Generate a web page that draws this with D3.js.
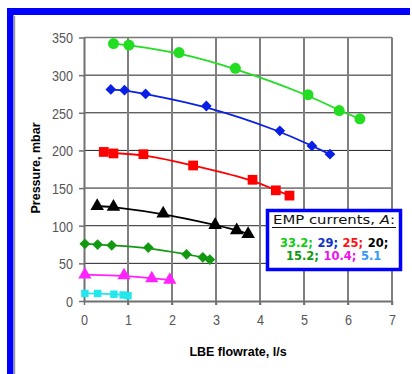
<!DOCTYPE html>
<html>
<head>
<meta charset="utf-8">
<script src="https://cdn.jsdelivr.net/npm/d3@7"></script>
<style>
  body { margin: 0; background: #fff; }
  svg { display: block; }
</style>
</head>
<body>
<div id="chart"></div>
<script>
// Chart size
var svgWidth = 412;
var svgHeight = 374;

// Tick labels
var xTicks = [0, 1, 2, 3, 4, 5, 6, 7];
var yTicks = [0, 50, 100, 150, 200, 250, 300, 350];

// EMP currents, A (legend labels)
var currents = ["33.2", "29", "25", "20", "15.2", "10.4", "5.1"];

// Flowrate (l/s) and pressure (mbar) for each current
var flow332 = [0.67, 1.02, 2.16, 3.44, 5.09, 5.80, 6.27];
var pres332 = [342, 340, 330, 309, 274, 253, 242];

var flow29 = [0.61, 0.92, 1.40, 2.78, 4.45, 5.18, 5.59];
var pres29 = [281, 280, 275, 259, 226, 206, 195];

var flow25 = [0.45, 0.67, 1.35, 2.48, 3.83, 4.36, 4.67];
var pres25 = [198, 196, 195, 180, 161, 147, 140];

var flow20 = [0.30, 0.67, 1.80, 2.98, 3.47, 3.73];
var pres20 = [126, 125, 116, 101, 94, 89];

var flow152 = [0.02, 0.31, 0.63, 1.46, 2.33, 2.70, 2.86];
var pres152 = [76, 75, 74, 71, 62, 58, 55];

var flow104 = [0.02, 0.91, 1.54, 1.95];
var pres104 = [35, 34, 30, 28];

var flow51 = [0.02, 0.31, 0.68, 0.89, 1.00];
var pres51 = [10, 10, 9, 8, 7];

var svg = d3.select("#chart")
  .append("svg")
  .attr("width", svgWidth)
  .attr("height", svgHeight);

// Frame: thick blue bars and thin gray inner line
svg.append("rect").attr("x", 7).attr("y", 8).attr("width", 403).attr("height", 7).attr("fill", "#0000ff");
svg.append("rect").attr("x", 7).attr("y", 8).attr("width", 6.5).attr("height", 366).attr("fill", "#0000ff");
svg.append("line").attr("x1", 14.5).attr("x2", 14.5).attr("y1", 16).attr("y2", 374)
  .attr("stroke", "#9a9a9a").attr("stroke-width", 1.5);

// Scales
var xScale = d3.scaleLinear().domain([0, 7]).range([84, 392]);
var yScale = d3.scaleLinear().domain([0, 350]).range([301, 37.5]);

// Horizontal gridlines
svg.append("g").selectAll("line")
  .data(yTicks.slice(1, -1))
  .enter()
  .append("line")
  .attr("x1", xScale(0)).attr("x2", xScale(7))
  .attr("y1", d => yScale(d)).attr("y2", d => yScale(d))
  .attr("stroke", "#222").attr("stroke-width", 1);

// Top frame
svg.append("line")
  .attr("x1", xScale(0)).attr("x2", xScale(7))
  .attr("y1", yScale(350)).attr("y2", yScale(350))
  .attr("stroke", "#777").attr("stroke-width", 1.5);

// Vertical gridlines
svg.append("g").selectAll("line")
  .data(xTicks.slice(1))
  .enter()
  .append("line")
  .attr("x1", d => xScale(d)).attr("x2", d => xScale(d))
  .attr("y1", yScale(350)).attr("y2", yScale(0) + 4)
  .attr("stroke", "#808080").attr("stroke-width", 2);

// Axes
var bottomAxis = d3.axisBottom(xScale).tickValues(xTicks).tickFormat(d3.format("d"))
  .tickSize(4).tickSizeOuter(0);
var leftAxis = d3.axisLeft(yScale).tickValues(yTicks).tickFormat(d3.format("d"))
  .tickSize(5).tickSizeOuter(0);

var xAxisG = svg.append("g")
  .attr("transform", "translate(0," + yScale(0) + ")")
  .call(bottomAxis);
var yAxisG = svg.append("g")
  .attr("transform", "translate(" + xScale(0) + ",0)")
  .call(leftAxis);

[xAxisG, yAxisG].forEach(function(g) {
  g.select(".domain").attr("stroke", "#707070").attr("stroke-width", 2);
  g.selectAll(".tick line").attr("stroke", "#707070").attr("stroke-width", 1.5);
  g.selectAll(".tick text")
    .attr("font-family", "'Liberation Sans', Arial, sans-serif")
    .attr("font-size", 15)
    .attr("fill", "#555")
    .attr("textLength", d => String(d).length * 7)
    .attr("lengthAdjust", "spacingAndGlyphs");
});
xAxisG.selectAll(".tick text").attr("y", 13);
yAxisG.selectAll(".tick text").attr("x", -11).attr("dy", "0.36em");

// Axis titles
svg.append("text")
  .attr("x", 238).attr("y", 356)
  .attr("text-anchor", "middle")
  .attr("font-family", "'Liberation Sans', Arial, sans-serif")
  .attr("font-weight", "bold")
  .attr("font-size", 12.5)
  .text("LBE flowrate, l/s");

svg.append("text")
  .attr("transform", "translate(40,168) rotate(-90)")
  .attr("text-anchor", "middle")
  .attr("font-family", "'Liberation Sans', Arial, sans-serif")
  .attr("font-weight", "bold")
  .attr("font-size", 12.5)
  .text("Pressure, mbar");

// Series definitions (rot = 45 turns a square into an Excel-like diamond)
var series = [
  { flow: flow332, pres: pres332, color: "#22dd22", symbol: d3.symbolCircle, size: 95, rot: 0 },
  { flow: flow29, pres: pres29, color: "#0a1fe6", symbol: d3.symbolSquare, size: 58, rot: 45 },
  { flow: flow25, pres: pres25, color: "#ff0000", symbol: d3.symbolSquare, size: 95, rot: 0 },
  { flow: flow20, pres: pres20, color: "#000000", symbol: d3.symbolTriangle, size: 80, rot: 0 },
  { flow: flow152, pres: pres152, color: "#119911", symbol: d3.symbolSquare, size: 58, rot: 45 },
  { flow: flow104, pres: pres104, color: "#ff22ff", symbol: d3.symbolTriangle, size: 75, rot: 0 },
  { flow: flow51, pres: pres51, color: "#22e8ee", symbol: d3.symbolSquare, size: 55, rot: 0 }
];

var line = d3.line()
  .x(d => xScale(d[0]))
  .y(d => yScale(d[1]))
  .curve(d3.curveBasis);

series.forEach(function(s) {
  var pts = s.flow.map((f, i) => [f, s.pres[i]]);
  svg.append("path")
    .datum(pts)
    .attr("d", line)
    .attr("fill", "none")
    .attr("stroke", s.color)
    .attr("stroke-width", 1.8);
  svg.append("g").selectAll("path")
    .data(pts)
    .enter()
    .append("path")
    .attr("transform", d => "translate(" + xScale(d[0]) + "," + yScale(d[1]) + ") rotate(" + s.rot + ")")
    .attr("d", d3.symbol().type(s.symbol).size(s.size))
    .attr("fill", s.color);
});

// Legend box
svg.append("rect")
  .attr("x", 267.5).attr("y", 210.5).attr("width", 133).attr("height", 59)
  .attr("fill", "#fff").attr("stroke", "#0000ff").attr("stroke-width", 3.5);

svg.append("text")
  .attr("x", 273).attr("y", 224)
  .attr("font-family", "'DejaVu Sans', sans-serif")
  .attr("font-size", 12)
  .attr("textLength", 122)
  .attr("lengthAdjust", "spacingAndGlyphs")
  .attr("fill", "#111")
  .html("EMP currents, <tspan font-style='italic'>A</tspan>:");
svg.append("line")
  .attr("x1", 272).attr("x2", 396).attr("y1", 227.5).attr("y2", 227.5)
  .attr("stroke", "#111").attr("stroke-width", 1.2);

// Legend entries, laid out left to right one text per entry
var legendColors = ["#11cc11", "#1133cc", "#ff1111", "#000000", "#119911", "#ee11ee", "#3399ff"];
var rows = [[0, 1, 2, 3], [4, 5, 6]];
var rowX = [280, 286];
var rowY = [247, 260];

rows.forEach(function(r, ri) {
  var cx = rowX[ri];
  r.forEach(function(k, j) {
    var last = (ri === 1 && j === r.length - 1);
    var label = currents[k] + (last ? "" : ";");
    var t = svg.append("text")
      .attr("x", cx).attr("y", rowY[ri])
      .attr("font-family", "'DejaVu Sans', sans-serif")
      .attr("font-weight", "bold")
      .attr("font-size", 11.5)
      .attr("fill", legendColors[k])
      .text(label);
    cx += t.node().getComputedTextLength() + 4.5;
  });
});
</script>
</body>
</html>
